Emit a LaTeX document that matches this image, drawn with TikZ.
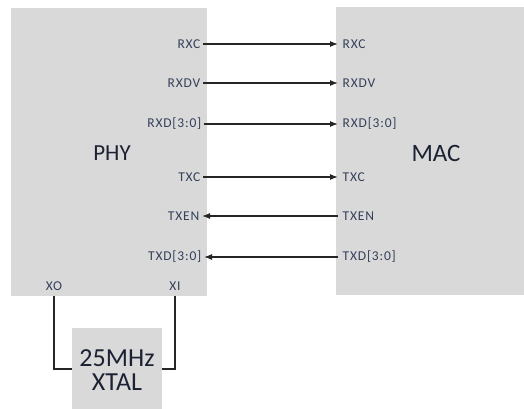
\documentclass[tikz,border=0pt]{standalone}
\usepackage{fontspec}
\setmainfont{Carlito}
\usetikzlibrary{arrows.meta}
\definecolor{boxfill}{HTML}{D9D9D9}
\definecolor{lbl}{HTML}{34405A}
\definecolor{big}{HTML}{1C2233}
\definecolor{wire}{HTML}{262626}
\begin{document}
\begin{tikzpicture}[x=1pt,y=-1pt,
  blk/.style={draw=none,fill=boxfill,inner sep=0pt},
  sig/.style={text=lbl,font=\fontsize{13.5}{14}\selectfont\addfontfeature{LetterSpace=6},inner xsep=1.5pt,inner ysep=1pt},
  bigt/.style={text=big,font=\fontsize{23}{24}\selectfont},
  arr/.style={draw=wire,line width=1.2pt,-{Latex[length=8pt,width=6pt]}},
  wr/.style={draw=wire,line width=1.1pt}]
\useasboundingbox (0,0) rectangle (524,408);
\node[blk,minimum width=196,minimum height=288] (phy) at (109,152) {};
\node[blk,minimum width=200,minimum height=288] (mac) at (436,151) {};
\node[blk,minimum width=90,minimum height=82] (xtal) at (117,369) {};
\node[bigt] (phyt) at (112,153) {PHY};
\node[bigt,font=\fontsize{25}{26}\selectfont] (mact) at (436,153) {MAC};
\node[text=big,font=\fontsize{26}{28}\selectfont,align=center] (xtalt) at (117,370) {25MHz\\[-4pt]XTAL};
% PHY side labels
\node[sig,anchor=east] (p1) at (202,44) {RXC};
\node[sig,anchor=east] (p2) at (202,83) {RXDV};
\node[sig,anchor=east] (p3) at (203,124) {RXD[3:0]};
\node[sig,anchor=east] (p4) at (202,177) {TXC};
\node[sig,anchor=east] (p5) at (201,216) {TXEN};
\node[sig,anchor=east] (p6) at (203,257) {TXD[3:0]};
% MAC side labels
\node[sig,anchor=west] (m1) at (341,44) {RXC};
\node[sig,anchor=west] (m2) at (341,83) {RXDV};
\node[sig,anchor=west] (m3) at (341,124) {RXD[3:0]};
\node[sig,anchor=west] (m4) at (341,177) {TXC};
\node[sig,anchor=west] (m5) at (341,216) {TXEN};
\node[sig,anchor=west] (m6) at (341,257) {TXD[3:0]};
% XO / XI
\node[sig] (xo) at (54,286) {XO};
\node[sig] (xi) at (175,286) {XI};
% arrows
\draw[arr,shorten <=1pt,shorten >=3pt] (p1.east) -- (m1.west);
\draw[arr,shorten <=1pt,shorten >=3pt] (p2.east) -- (m2.west);
\draw[arr,shorten <=1pt,shorten >=3pt] (p3.east) -- (m3.west);
\draw[arr,shorten <=1pt,shorten >=3pt] (p4.east) -- (m4.west);
\draw[arr,shorten <=3pt,shorten >=1pt] (m5.west) -- (p5.east);
\draw[arr,shorten <=3pt,shorten >=1pt] (m6.west) -- (p6.east);
% crystal wires
\draw[wr] (xo.south) ++(0,4) |- (xtal.west);
\draw[wr] (xi.south) ++(0,4) |- (xtal.east);
\end{tikzpicture}
\end{document}
